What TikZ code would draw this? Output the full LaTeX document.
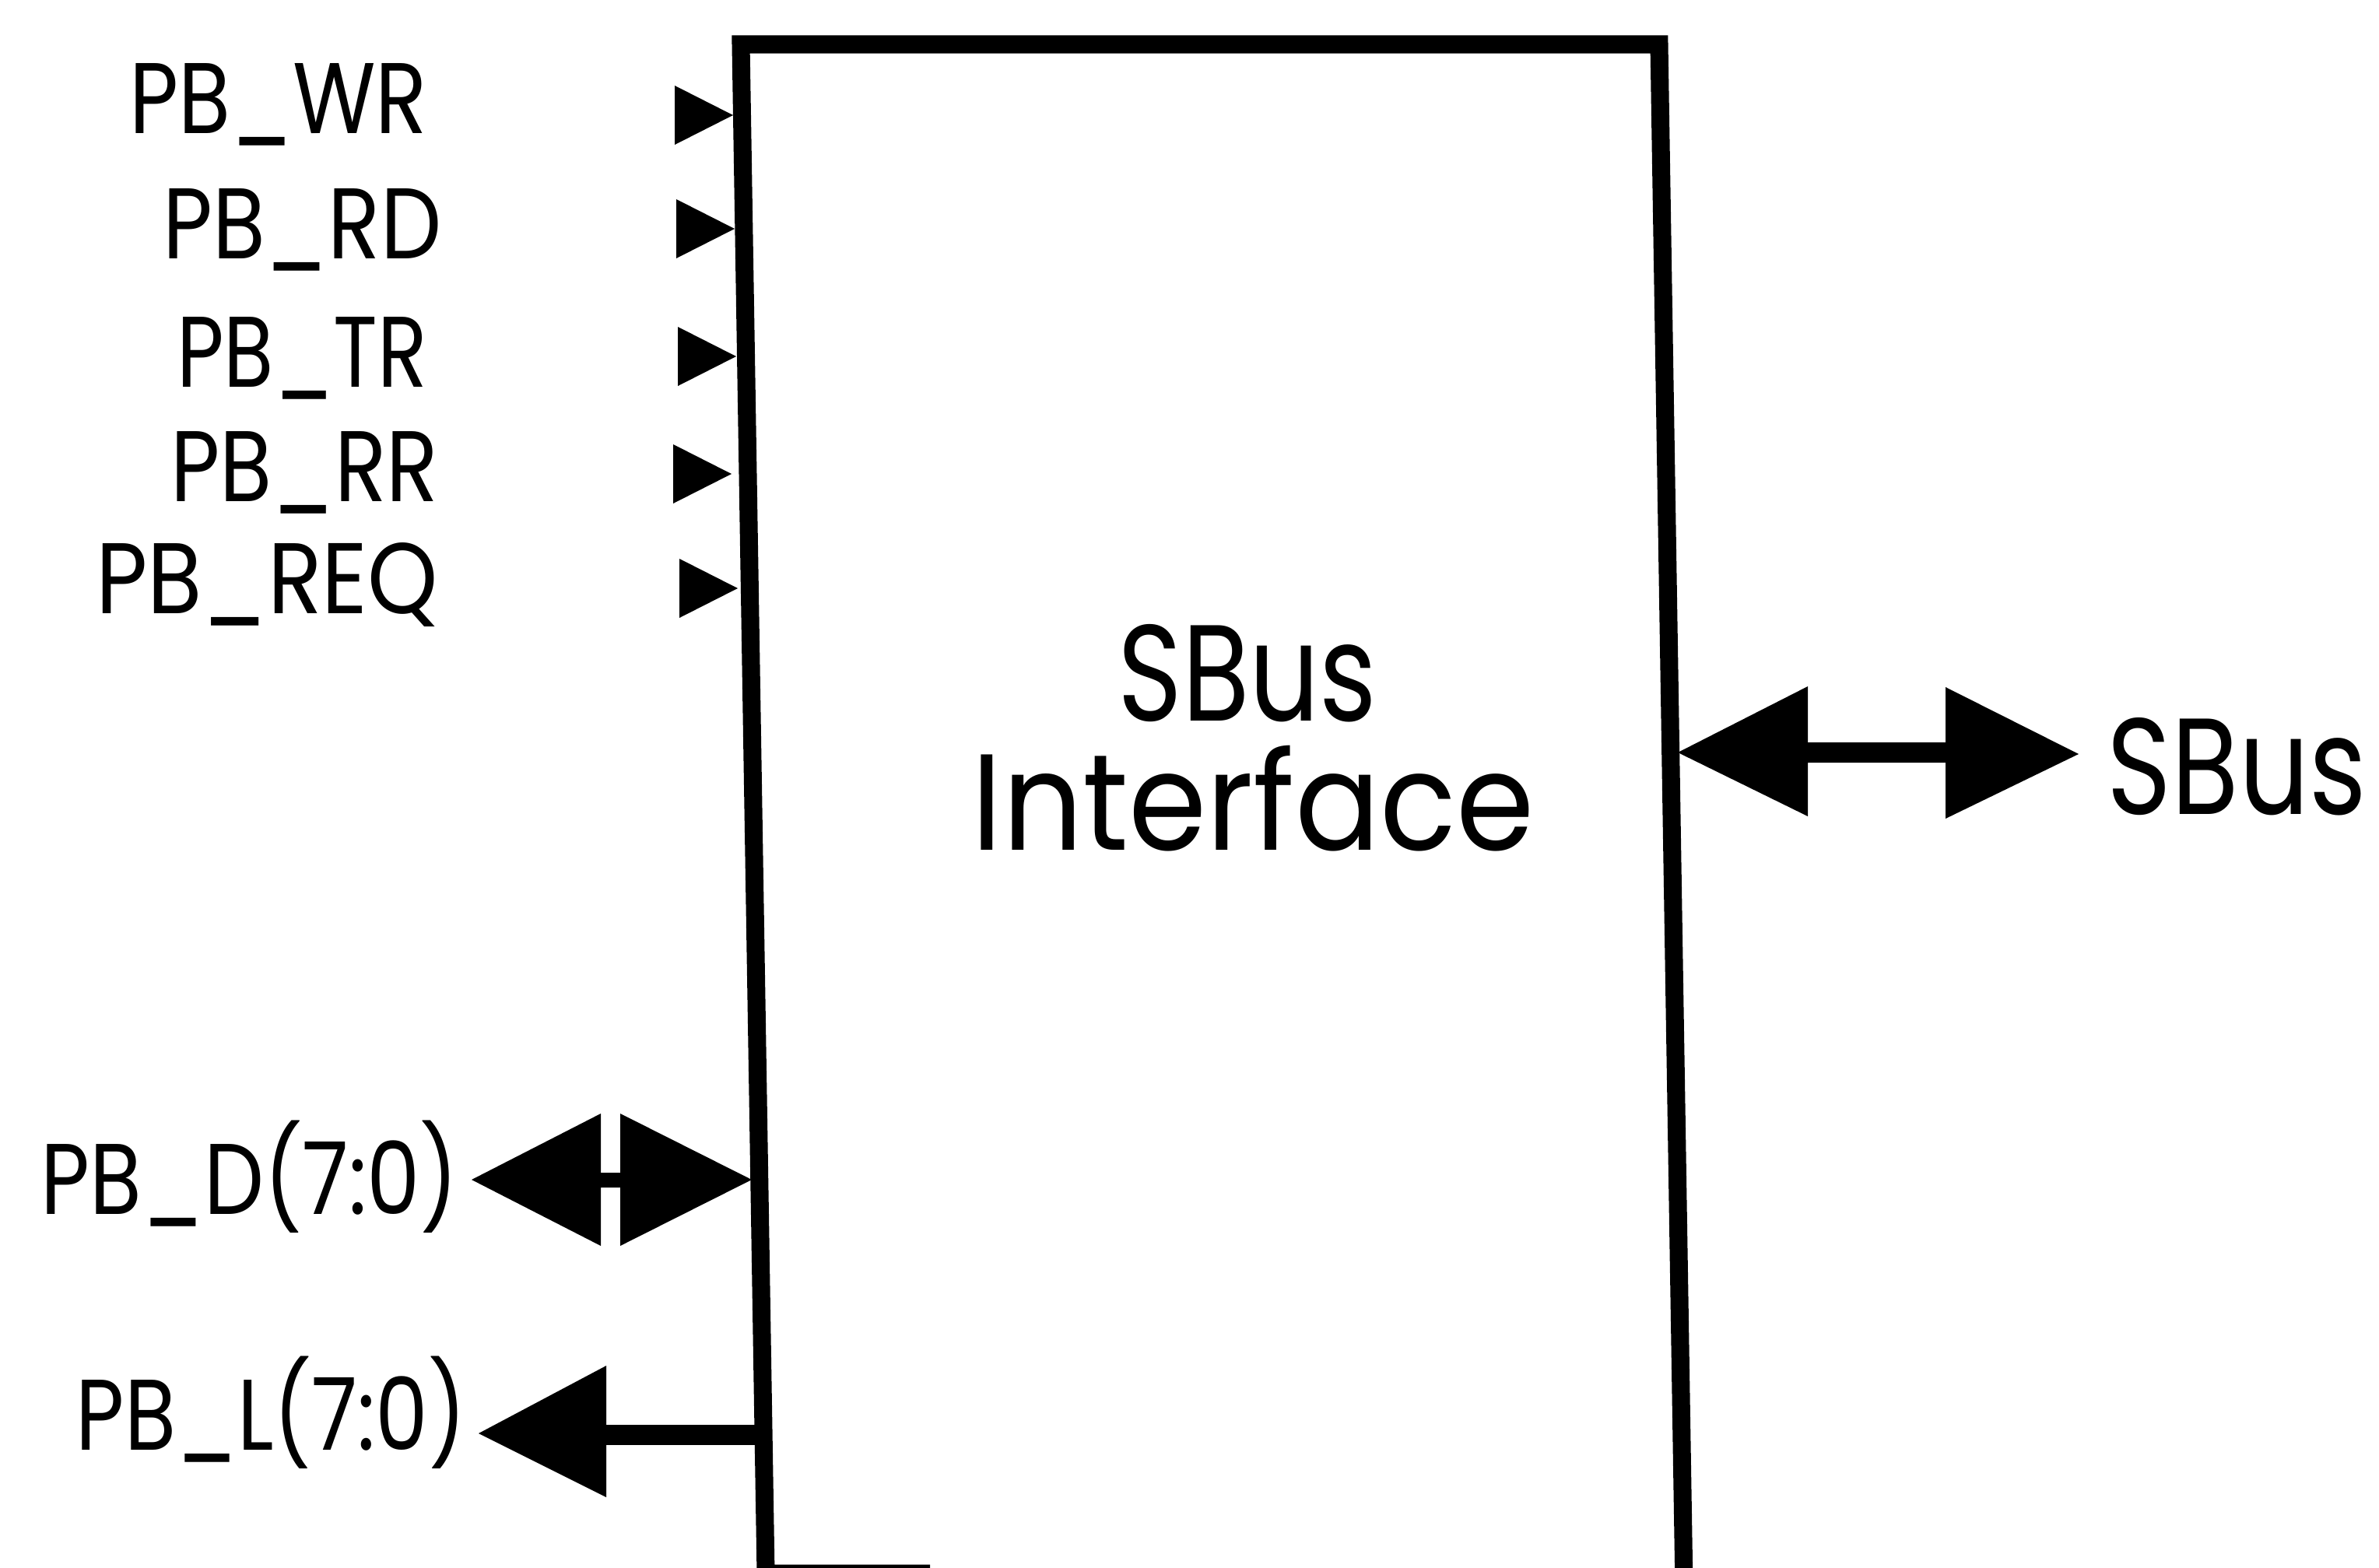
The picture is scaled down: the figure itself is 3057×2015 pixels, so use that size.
\documentclass[tikz,border=0pt]{standalone}
\usepackage{fontspec}
\setmainfont{Poppins}
\usepackage{graphicx}
\newcommand{\fitw}[2]{\resizebox{#1}{\height}{#2}}
\tikzset{
  lbl/.style={inner sep=0pt, font=\fontsize{36.7}{40}\selectfont},
  big/.style={inner sep=0pt, font=\fontsize{50}{56}\selectfont},
  pin/.style={fill=black},
  boxline/.style={line width=0.23cm, line join=miter},
}
\begin{document}
\begin{tikzpicture}[x=0.01cm,y=-0.01cm]
\useasboundingbox (0,0) rectangle (3057,2015);
\fill[white] (0,0) rectangle (3057,2015);
\clip (0,0) rectangle (3057,2015);
% box
\coordinate (Bcut) at (1195,2022);
\coordinate (BL) at (984,2022);
\coordinate (TL) at (952,57);
\coordinate (TR) at (2132,57);
\coordinate (BR) at (2164,2040);
\draw[boxline] (Bcut) -- (BL) -- (TL) -- (TR) -- (BR);
% centre text
\node[big, anchor=base] (t1) at (1603,926) {\fitw{3.33cm}{SBus}};
\node[big, anchor=base] (t2) at (1610,1092) {\fitw{7.23cm}{Interface}};
% input labels
\node[lbl, anchor=base east] (wr)  at (550,172) {\fitw{3.83cm}{PB\_WR}};
\node[lbl, anchor=base east] (rd)  at (568,332) {\fitw{3.58cm}{PB\_RD}};
\node[lbl, anchor=base east] (tr)  at (550,497) {\fitw{3.22cm}{PB\_TR}};
\node[lbl, anchor=base east] (rr)  at (564,644) {\fitw{3.44cm}{PB\_RR}};
\node[lbl, anchor=base east] (req) at (564,788) {\fitw{4.40cm}{PB\_REQ}};
% input pins
\coordinate (pWR)  at (942,148);
\coordinate (pRD)  at (944,294);
\coordinate (pTR)  at (946,458);
\coordinate (pRR)  at (940,609);
\coordinate (pREQ) at (948,756);
\foreach \p in {pWR,pRD,pTR,pRR,pREQ}
  \fill[pin] (\p) -- ++(-75,-38) -- ++(0,76) -- cycle;
% bus labels
\node[lbl, anchor=base east] (pbd) at (590,1560) {\fitw{5.36cm}{PB\_D(7:0)}};
\node[lbl, anchor=base east] (pbl) at (600,1863) {\fitw{5.01cm}{PB\_L(7:0)}};
% PB_D bidirectional
\coordinate (dL) at (606,1516);
\coordinate (dR) at (966,1516);
\fill[pin] (dL) -- ++(166,-85) -- ++(0,76) -- ++(25,0) -- ++(0,-76) -- (dR)
  -- ++(-169,85) -- ++(0,-75) -- ++(-25,0) -- ++(0,75) -- cycle;
% PB_L output
\coordinate (lT) at (615,1842);
\coordinate (lE) at (985,1844);
\coordinate (lB) at (775,1844);
\fill[pin] (lT) -- ++(164,-87) -- ++(0,169) -- cycle;
\draw[line width=0.26cm] (lE) -- (lB);
% SBus bidirectional
\coordinate (sA) at (2156,967);
\coordinate (sB) at (2671,969);
\fill[pin] (sA) -- ++(167,-85) -- ++(0,72) -- ++(177,0) -- ++(0,-71) -- (sB)
  -- ++(-171,83) -- ++(0,-72) -- ++(-177,0) -- ++(0,69) -- cycle;
\node[big, anchor=base west] (sbus) at (2707,1046) {\fitw{3.33cm}{SBus}};
\end{tikzpicture}
\end{document}
